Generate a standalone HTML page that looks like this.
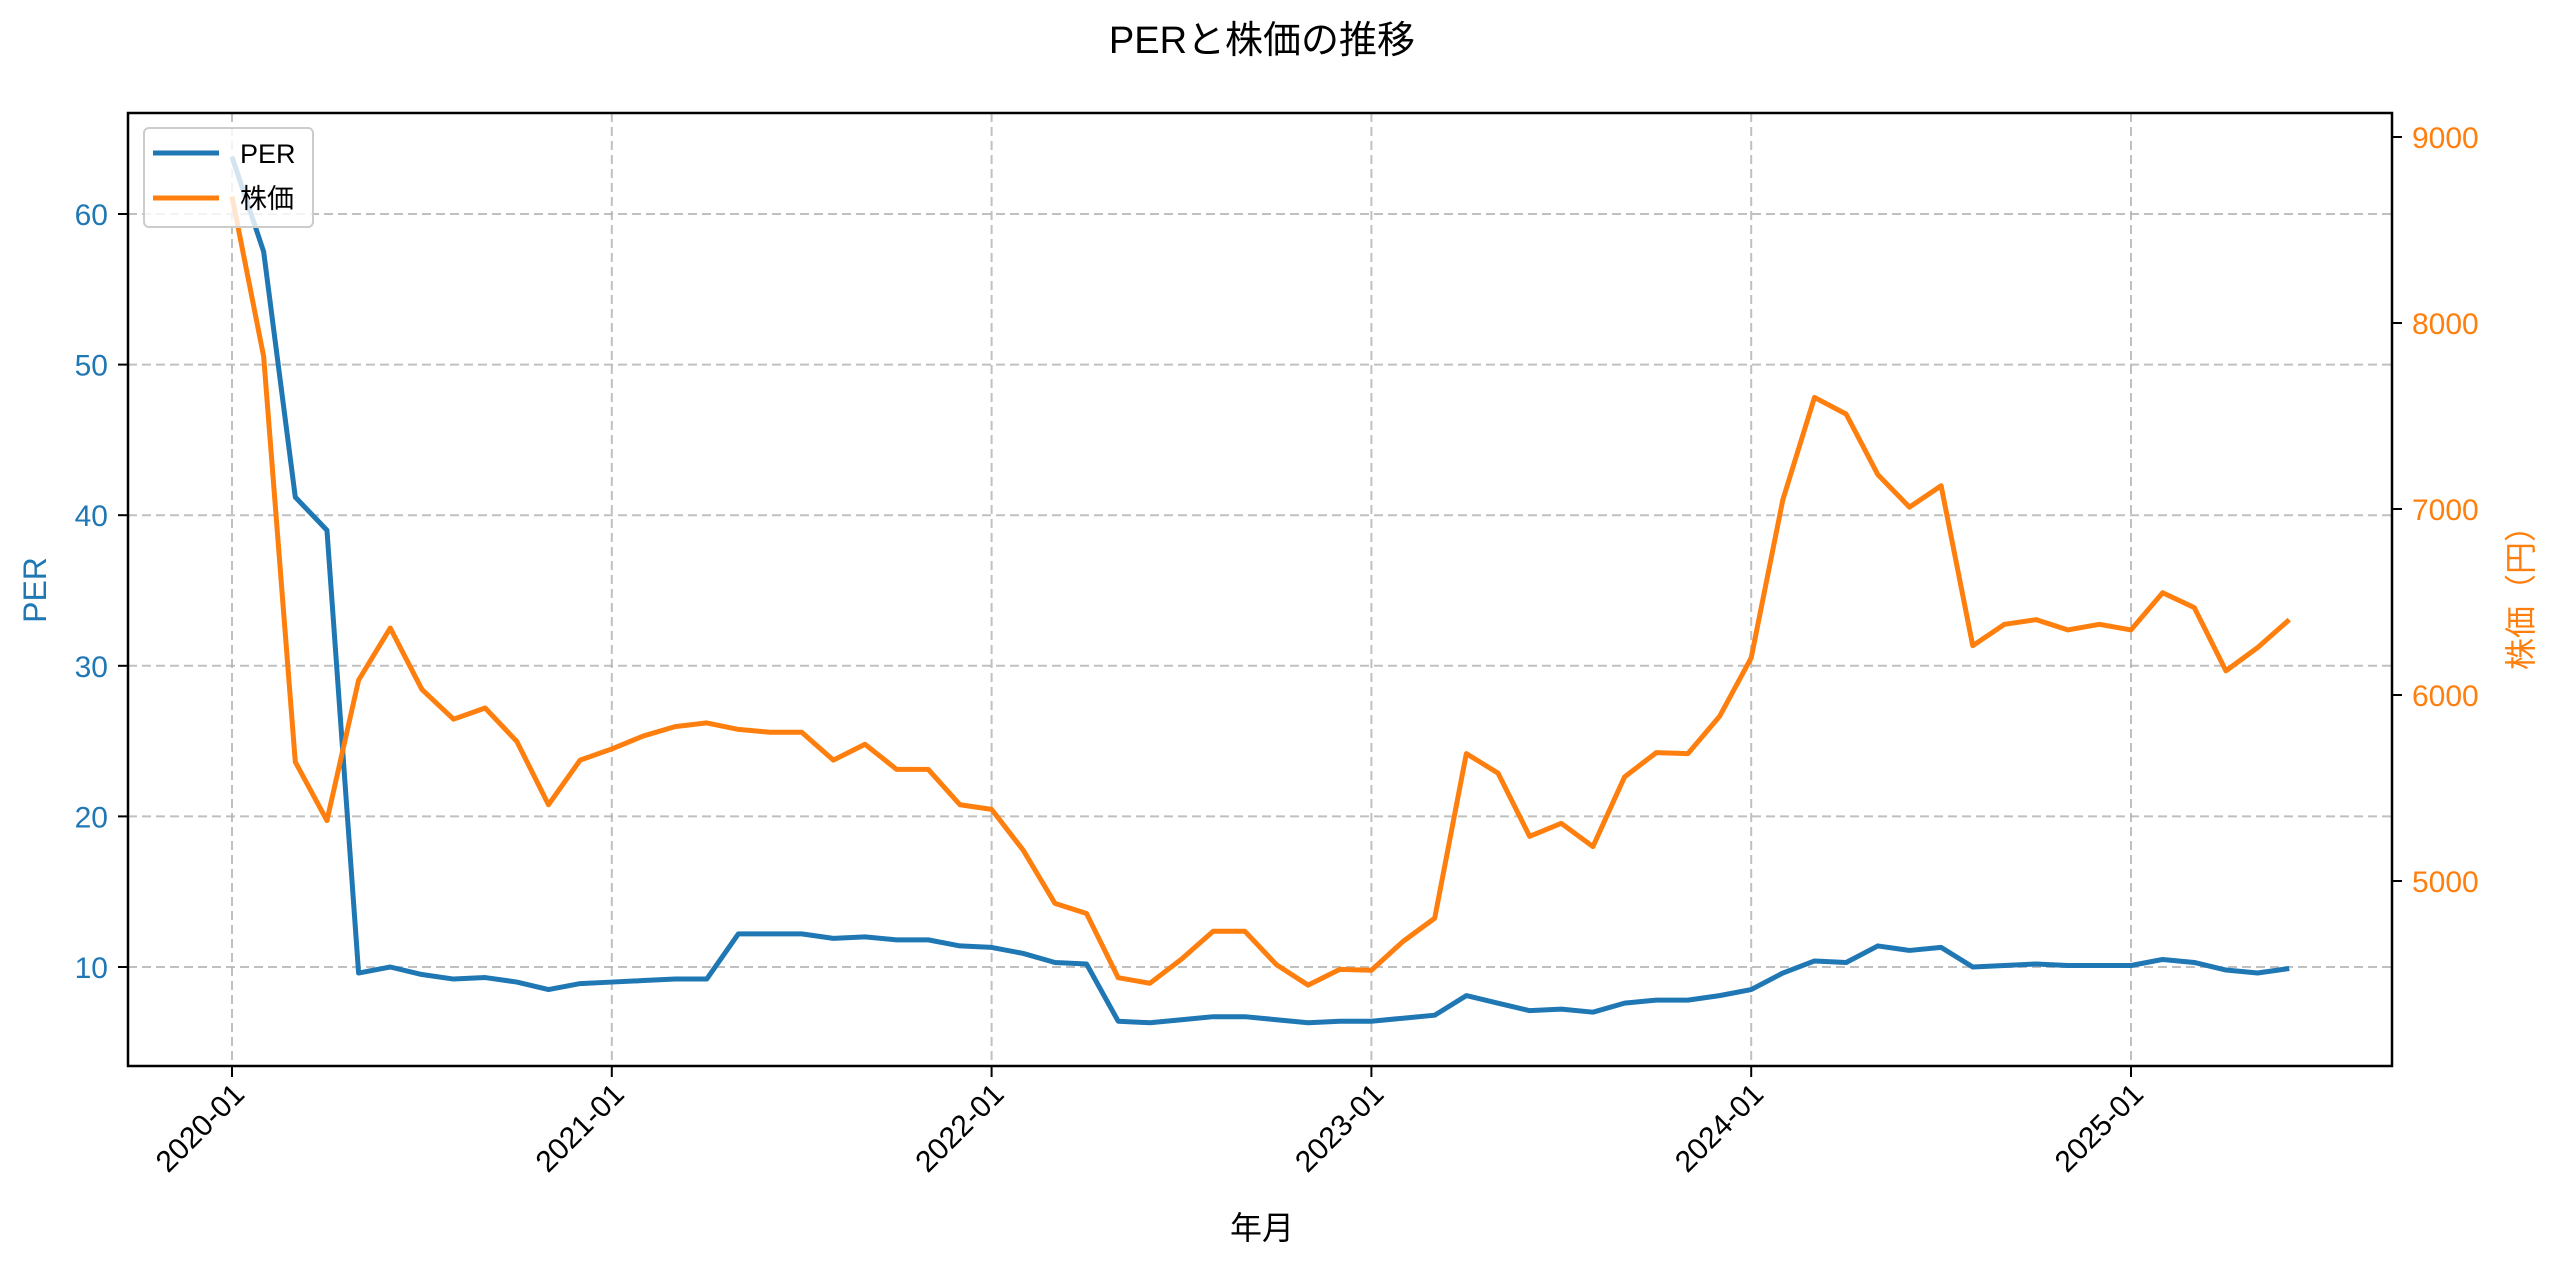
<!DOCTYPE html>
<html><head><meta charset="utf-8"><style>
html,body{margin:0;padding:0;background:#fff;}
svg{display:block;font-family:"Liberation Sans","Noto Sans CJK JP",sans-serif;}
</style></head><body>
<svg id="chart" width="2560" height="1269" viewBox="0 0 2560 1269" xmlns="http://www.w3.org/2000/svg">
<rect width="2560" height="1269" fill="#fff"/>
<text x="1262" y="53" font-size="38" text-anchor="middle" fill="#000">PERと株価の推移</text>
<g id="grid"></g>
<g id="lines"></g>
<rect x="128" y="113" width="2264" height="953" fill="none" stroke="#000" stroke-width="2.5"/>
<g id="axes"></g>
<text x="1262" y="1239" font-size="32" text-anchor="middle" fill="#000">年月</text>
<text x="0" y="0" font-size="32" text-anchor="middle" fill="#1f77b4" transform="translate(46,590) rotate(-90)">PER</text>
<text x="0" y="0" font-size="32" text-anchor="middle" fill="#ff7f0e" transform="translate(2532,590) rotate(-90)">株価（円）</text>
<g>
<rect x="144" y="128" width="169" height="99" rx="5" fill="#fff" fill-opacity="0.8" stroke="#ccc" stroke-width="2"/>
<line x1="153" y1="153" x2="219" y2="153" stroke="#1f77b4" stroke-width="5"/>
<text x="240" y="163" font-size="27" fill="#000">PER</text>
<line x1="153" y1="198" x2="219" y2="198" stroke="#ff7f0e" stroke-width="5"/>
<text x="240" y="208" font-size="27" fill="#000">株価</text>
</g>
</svg>
<script>
const perValues=[63.8,57.5,41.2,39.0,9.6,10.0,9.5,9.2,9.3,9.0,8.5,8.9,9.0,9.1,9.2,9.2,12.2,12.2,12.2,11.9,12.0,11.8,11.8,11.4,11.3,10.9,10.3,10.2,6.4,6.3,6.5,6.7,6.7,6.5,6.3,6.4,6.4,6.6,6.8,8.1,7.6,7.1,7.2,7.0,7.6,7.8,7.8,8.1,8.5,9.6,10.4,10.3,11.4,11.1,11.3,10.0,10.1,10.2,10.1,10.1,10.1,10.5,10.3,9.8,9.6,9.9];
const priceValues=[8680,7820,5640,5325,6080,6360,6030,5870,5930,5750,5410,5650,5710,5780,5830,5850,5815,5800,5800,5650,5735,5600,5600,5410,5385,5165,4880,4825,4480,4450,4580,4730,4730,4550,4440,4525,4520,4675,4800,5685,5580,5240,5310,5185,5560,5690,5685,5885,6200,7050,7600,7510,7185,7010,7125,6265,6380,6405,6350,6380,6350,6550,6470,6130,6255,6405];
const xTickLabels=["2020-01","2021-01","2022-01","2023-01","2024-01","2025-01"];
const perTicks=[10,20,30,40,50,60];
const priceTicks=[5000,6000,7000,8000,9000];
const NS="http://www.w3.org/2000/svg";
const X=i=>232+i*(1899/60);
const yL=v=>967-(v-10)*(753/50);
const yR=v=>881-(v-5000)*0.186;
const grid=document.getElementById('grid'),axes=document.getElementById('axes'),lines=document.getElementById('lines');
function mk(tag,attrs,parent){const e=document.createElementNS(NS,tag);for(const k in attrs)e.setAttribute(k,attrs[k]);parent.appendChild(e);return e;}
xTickLabels.forEach((lab,k)=>{
  const x=X(k*12);
  const g=mk('line',{x1:x,y1:113,x2:x,y2:1066,stroke:'#b0b0b0','stroke-opacity':0.8,'stroke-width':2,'stroke-dasharray':'9,5'},grid);
  
  
  const t=mk('line',{x1:x,y1:1066,x2:x,y2:1077,stroke:'#000','stroke-width':2},axes);
  
  
  const tx=mk('text',{x:0,y:0,'font-size':30,'text-anchor':'end',fill:'#000',transform:`translate(${x+14},${1096}) rotate(-45)`},axes);
  tx.textContent=lab;
  
  
});
perTicks.forEach(v=>{
  const y=yL(v);
  const g=mk('line',{x1:128,y1:y,x2:2392,y2:y,stroke:'#b0b0b0','stroke-opacity':0.8,'stroke-width':2,'stroke-dasharray':'9,5'},grid);
  
  
  const t=mk('line',{x1:118,y1:y,x2:128,y2:y,stroke:'#000','stroke-width':2},axes);
  
  
  const tx=mk('text',{x:108,y:y+11,'font-size':30,'text-anchor':'end',fill:'#1f77b4'},axes);
  tx.textContent=v;
  
  
});
priceTicks.forEach(v=>{
  const y=yR(v);
  const t=mk('line',{x1:2392,y1:y,x2:2402,y2:y,stroke:'#000','stroke-width':2},axes);
  
  
  const tx=mk('text',{x:2412,y:y+11,'font-size':30,'text-anchor':'start',fill:'#ff7f0e'},axes);
  tx.textContent=v;
  
  
});
const p1=mk('polyline',{points:perValues.map((v,i)=>X(i)+','+yL(v)).join(' '),fill:'none',stroke:'#1f77b4','stroke-width':5,'stroke-linejoin':'round'},lines);


const p2=mk('polyline',{points:priceValues.map((v,i)=>X(i)+','+yR(v)).join(' '),fill:'none',stroke:'#ff7f0e','stroke-width':5,'stroke-linejoin':'round'},lines);


</script>
</body></html>
